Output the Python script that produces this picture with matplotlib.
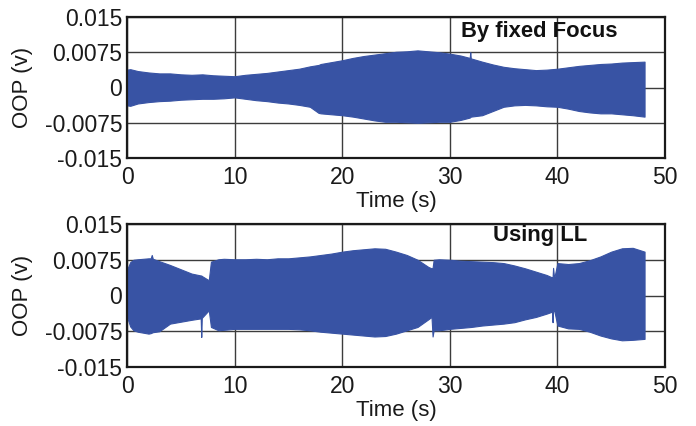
"""Two stacked OOP signal envelopes: fixed focus vs. LL tracking."""

import matplotlib

matplotlib.use("Agg")

import matplotlib.pyplot as plt
import numpy as np


OUTPUT_PATH = "out.png"
SIGNAL_COLOR = "#3853A4"
FONT = ["Liberation Sans", "DejaVu Sans"]

Y_TICKS = [-0.015, -0.0075, 0, 0.0075, 0.015]
Y_TICK_LABELS = ["-0.015", "-0.0075", "0", "0.0075", "0.015"]
X_TICKS = [0, 10, 20, 30, 40, 50]

# Envelope of the signal, amplitudes in mV (x1e-3 V)
TOP_TIME = [0, 0.3, 1, 2, 3, 4, 5, 6, 7, 8, 9, 10, 11, 12, 13, 14, 15, 16,
            17, 17.8, 18, 19, 20, 21, 22, 23, 24, 25, 26, 27, 28, 29, 30, 31,
            31.85, 31.9, 31.95, 33, 34, 35, 36, 37, 38, 39, 40, 41, 42, 43,
            44, 45, 46, 47, 48.1]
TOP_UPPER = [3.8, 3.9, 3.5, 3.2, 3.0, 3.0, 2.8, 2.7, 2.8, 2.6, 2.5, 2.4, 2.7,
             2.9, 3.1, 3.4, 3.7, 4.0, 4.5, 4.8, 5.0, 5.4, 5.8, 6.3, 6.7, 7.0,
             7.3, 7.6, 7.7, 7.9, 7.7, 7.5, 7.2, 6.8, 6.3, 7.5, 6.2, 5.5, 4.9,
             4.4, 4.1, 3.9, 3.7, 3.8, 4.0, 4.3, 4.6, 4.8, 5.0, 5.1, 5.3, 5.4,
             5.5]
TOP_LOWER = [3.8, 3.9, 3.4, 3.1, 2.9, 2.8, 2.6, 2.5, 2.4, 2.4, 2.3, 2.1, 2.4,
             2.7, 2.9, 3.2, 3.4, 3.7, 4.1, 5.4, 5.5, 5.7, 5.9, 6.2, 6.6, 7.0,
             7.3, 7.3, 7.4, 7.5, 7.4, 7.3, 7.3, 6.9, 6.4, 6.3, 6.2, 5.9, 5.0,
             4.1, 3.8, 3.7, 3.8, 4.0, 4.1, 4.5, 5.0, 5.3, 5.5, 5.5, 5.7, 5.9,
             6.2]

BOTTOM_TIME = [0, 0.3, 0.6, 1, 2, 2.2, 2.3, 2.4, 3, 4, 5, 6, 6.85, 6.9, 6.95,
               7.6, 7.8, 8.5, 9, 10, 11, 12, 13, 14, 15, 16, 17, 18, 19, 20,
               21, 22, 23, 24, 25, 26, 27, 28, 28.3, 28.4, 28.5, 29, 30, 31,
               32, 33, 34, 35, 36, 37, 38, 39, 39.5, 39.55, 39.6, 39.7, 40, 41,
               42, 43, 44, 45, 46, 47, 48.1]
BOTTOM_UPPER = [5.4, 7.0, 7.5, 7.6, 7.8, 7.8, 8.5, 7.7, 7.2, 6.4, 5.5, 4.6,
                4.2, 4.2, 4.1, 3.2, 7.1, 7.6, 7.7, 7.6, 7.6, 7.7, 7.6, 7.8,
                7.8, 8.0, 8.2, 8.5, 8.8, 9.2, 9.5, 9.7, 9.9, 9.8, 9.2, 8.5,
                7.5, 6.0, 5.7, 5.8, 7.5, 7.6, 7.5, 7.3, 7.2, 7.1, 7.0, 6.8,
                6.3, 5.7, 5.0, 4.3, 3.8, 3.8, 5.8, 3.6, 6.8, 6.6, 6.8, 7.4,
                8.2, 9.2, 9.9, 10.0, 9.2]
BOTTOM_LOWER = [4.5, 6.5, 7.3, 7.6, 8.0, 7.9, 7.8, 7.7, 7.5, 5.9, 5.5, 5.1,
                4.8, 8.7, 4.7, 3.1, 6.6, 7.3, 7.2, 7.0, 7.0, 7.0, 7.0, 7.0,
                7.0, 7.1, 7.3, 7.6, 7.8, 8.0, 8.2, 8.4, 8.6, 8.5, 8.0, 7.3,
                6.6, 5.0, 4.5, 8.6, 7.3, 7.3, 7.0, 6.8, 6.6, 6.3, 6.1, 5.9,
                5.6, 5.0, 4.5, 3.8, 3.4, 5.6, 3.3, 3.1, 6.3, 6.9, 7.0, 7.6,
                8.4, 9.0, 9.4, 9.3, 9.1]


def draw_panel(ax, time, upper, lower, label, label_x, label_y):
    """Draw one envelope panel in a MATLAB-like boxed, gridded axes."""
    time = np.asarray(time)
    upper = np.asarray(upper) * 1e-3
    lower = -np.asarray(lower) * 1e-3

    ax.fill_between(time, lower, upper, color=SIGNAL_COLOR, linewidth=0.8,
                    edgecolor=SIGNAL_COLOR, zorder=3)

    ax.set_xlim(0, 50)
    ax.set_ylim(-0.015, 0.015)
    ax.set_xticks(X_TICKS)
    ax.set_yticks(Y_TICKS)
    ax.set_yticklabels(Y_TICK_LABELS)
    ax.grid(True, color="#3c3c3c", linewidth=1.0, zorder=1)
    ax.tick_params(length=0, labelsize=16.5, colors="#1a1a1a")
    ax.tick_params(axis="x", pad=6)
    ax.tick_params(axis="y", pad=3.5)
    for tick in ax.get_xticklabels() + ax.get_yticklabels():
        tick.set_family(FONT)
    for spine in ax.spines.values():
        spine.set_linewidth(1.6)
        spine.set_color("#1a1a1a")
        spine.set_zorder(4)

    ax.set_xlabel("Time (s)", fontsize=16, family=FONT, labelpad=1.5,
                  color="#1a1a1a")
    ax.set_ylabel("OOP (v)", fontsize=16, family=FONT, labelpad=8,
                  color="#1a1a1a")
    ax.text(label_x, label_y, label, transform=ax.transAxes, fontsize=15.8,
            fontweight="bold", family=FONT, va="center", ha="left",
            color="#111111", zorder=5)


def main() -> None:
    fig = plt.figure(figsize=(6.96, 4.26), dpi=100, facecolor="white")
    ax_top = fig.add_axes([127 / 696, 1 - 158 / 426, 538 / 696, 141 / 426])
    ax_bottom = fig.add_axes([127 / 696, 1 - 367 / 426, 538 / 696, 143 / 426])

    draw_panel(ax_top, TOP_TIME, TOP_UPPER, TOP_LOWER,
               "By fixed Focus", 0.62, 0.9)
    draw_panel(ax_bottom, BOTTOM_TIME, BOTTOM_UPPER, BOTTOM_LOWER,
               "Using LL", 0.68, 0.92)

    fig.savefig(OUTPUT_PATH, dpi=100, facecolor="white")
    plt.close(fig)


if __name__ == "__main__":
    main()
